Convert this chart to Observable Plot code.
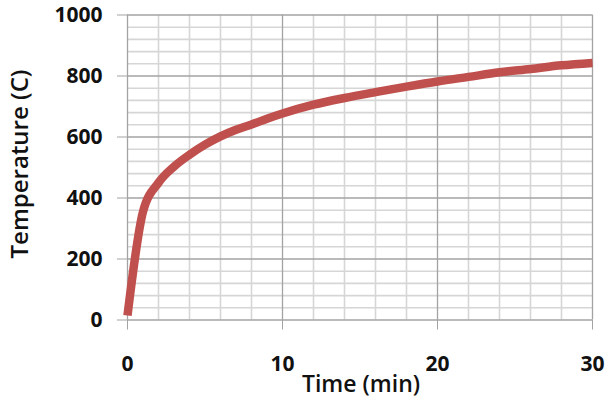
<!DOCTYPE html>
<html>
<head>
<meta charset="utf-8">
<script src="https://cdn.jsdelivr.net/npm/d3@7"></script>
<script src="https://cdn.jsdelivr.net/npm/@observablehq/plot@0.6"></script>
<style>
  html, body { margin: 0; padding: 0; background: #fff; }
  #chart svg { display: block; }
</style>
</head>
<body>
<div id="chart"></div>
<script>
// Data
const timeMin = [0, 1, 2, 3, 4, 5, 6, 7, 8, 9, 10, 12, 14, 16, 18, 20, 22, 24, 26, 28, 30];
const tempC   = [15, 355, 450, 503, 542, 575, 602, 624, 641, 660, 677, 706, 728, 747, 765, 782, 797, 812, 823, 835, 843];

const xMajorTicks = [0, 10, 20, 30];
const xMinorTicks = [2, 4, 6, 8, 12, 14, 16, 18, 22, 24, 26, 28];
const yMajorTicks = [0, 200, 400, 600, 800, 1000];
const yMinorTicks = [40, 80, 120, 160, 240, 280, 320, 360, 440, 480, 520, 560, 640, 680, 720, 760, 840, 880, 920, 960];

const xTitle = "Time (min)";
const yTitle = "Temperature (C)";

const data = timeMin.map((t, i) => ({t, T: tempC[i]}));

const font = "'Open Sans', sans-serif";

const chart = Plot.plot({
  width: 610,
  height: 408,
  marginLeft: 127,
  marginRight: 18,
  marginTop: 14.5,
  marginBottom: 88.5,
  style: {fontFamily: font, background: "#fff", color: "#111"},
  x: {domain: [0, 30]},
  y: {domain: [0, 1000]},
  marks: [
    Plot.ruleX(xMinorTicks, {stroke: "#d6d6d6", strokeWidth: 1.6}),
    Plot.ruleY(yMinorTicks, {stroke: "#d6d6d6", strokeWidth: 1.6}),
    Plot.ruleX(xMajorTicks, {stroke: "#a3a3a3", strokeWidth: 1.3}),
    Plot.ruleY(yMajorTicks, {stroke: "#a3a3a3", strokeWidth: 1.3}),
    Plot.axisX({ticks: xMajorTicks, tickSize: 10, tickPadding: 26, stroke: "#a3a3a3",
      fontSize: 21, fontWeight: 700, label: null, tickFormat: d => String(d)}),
    Plot.axisY({ticks: yMajorTicks, tickSize: 10, tickPadding: 15, stroke: "#a3a3a3",
      fontSize: 21, fontWeight: 700, label: null, tickFormat: d => String(d)}),
    Plot.line(data, {x: "t", y: "T", stroke: "#c0504d", strokeWidth: 8.5, curve: "monotone-x",
      strokeLinejoin: "round", strokeLinecap: "butt"}),
    Plot.text([xTitle], {frameAnchor: "bottom", dx: 1, dy: 64.5, fontSize: 23, fontWeight: 600, fill: "#111", lineAnchor: "middle"}),
    Plot.text([yTitle], {frameAnchor: "left", dx: -107.5, dy: -3.5, rotate: -90, fontSize: 24, fontWeight: 600, fill: "#111", lineAnchor: "middle", textAnchor: "middle"})
  ]
});

document.getElementById("chart").appendChild(chart);
</script>
</body>
</html>
